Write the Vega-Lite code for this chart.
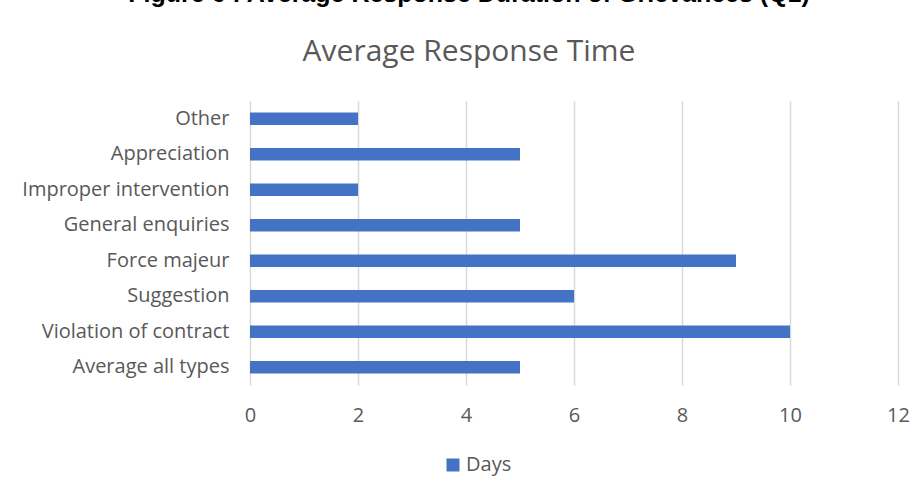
{
  "$schema": "https://vega.github.io/schema/vega-lite/v6.json",
  "width": 648,
  "height": 284,
  "autosize": {"type": "none"},
  "padding": {"left": 250, "top": 101, "right": 26, "bottom": 115},
  "background": "white",
  "config": {"view": {"stroke": null}, "font": "Open Sans"},
  "title": {
    "text": "Figure 6 : Average Response Duration of Grievances (Q1)",
    "subtitle": "Average Response Time",
    "anchor": "middle",
    "frame": "group",
    "font": "Liberation Sans",
    "fontSize": 25,
    "fontWeight": "bold",
    "color": "#000000",
    "subtitleFont": "Open Sans",
    "subtitleFontSize": 30,
    "subtitleColor": "#595959",
    "subtitlePadding": 30,
    "offset": 34,
    "dx": -105
  },
  "data": {
    "values": [
      {"category": "Other", "days": 2, "series": "Days"},
      {"category": "Appreciation", "days": 5, "series": "Days"},
      {"category": "Improper intervention", "days": 2, "series": "Days"},
      {"category": "General enquiries", "days": 5, "series": "Days"},
      {"category": "Force majeur", "days": 9, "series": "Days"},
      {"category": "Suggestion", "days": 6, "series": "Days"},
      {"category": "Violation of contract", "days": 10, "series": "Days"},
      {"category": "Average all types", "days": 5, "series": "Days"}
    ]
  },
  "mark": {"type": "bar"},
  "encoding": {
    "y": {
      "field": "category",
      "type": "nominal",
      "sort": null,
      "scale": {"paddingInner": 0.65, "paddingOuter": 0.325},
      "axis": {
        "title": null,
        "domain": false,
        "ticks": false,
        "grid": false,
        "labelFont": "Open Sans",
        "labelFontSize": 20,
        "labelColor": "#595959",
        "labelPadding": 21,
        "labelLimit": 0
      }
    },
    "x": {
      "field": "days",
      "type": "quantitative",
      "scale": {"domain": [0, 12], "nice": false},
      "axis": {
        "title": null,
        "values": [0, 2, 4, 6, 8, 10, 12],
        "domain": false,
        "ticks": false,
        "grid": true,
        "gridColor": "#d9d9d9",
        "gridWidth": 1.5,
        "labelFont": "Open Sans",
        "labelFontSize": 20,
        "labelColor": "#595959",
        "labelPadding": 20,
        "labelFlush": false
      }
    },
    "color": {
      "field": "series",
      "type": "nominal",
      "scale": {"range": ["#4472C4"]},
      "legend": {
        "title": null,
        "orient": "none",
        "legendX": 193,
        "legendY": 354,
        "symbolType": "square",
        "symbolSize": 169,
        "symbolStrokeWidth": 0,
        "labelFont": "Open Sans",
        "labelFontSize": 20,
        "labelColor": "#595959",
        "labelOffset": 3
      }
    }
  }
}
